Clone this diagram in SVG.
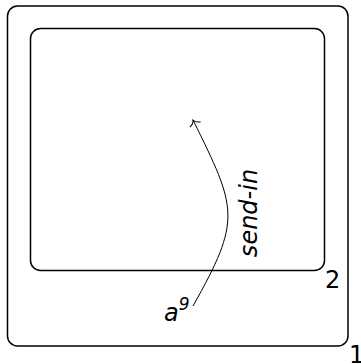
<svg xmlns="http://www.w3.org/2000/svg" width="361" height="364" viewBox="0 0 361 364">
<style>
.box{fill:none;stroke:#000;stroke-width:1.5}
.lbl{font-family:"DejaVu Sans",sans-serif;font-size:24px;fill:#000}
.it{font-style:italic}
.edge{fill:none;stroke:#000;stroke-width:1}
</style>
<defs>
<marker id="to" markerUnits="userSpaceOnUse" markerWidth="14" markerHeight="16" refX="0" refY="0" viewBox="-7 -8 14 16" orient="auto" overflow="visible">
<path d="M -5,-6 C -4,-2.5 -1.5,-0.5 0,0 C -1.5,0.5 -4,2.5 -5,6" fill="none" stroke="#000" stroke-width="1"/>
</marker>
</defs>
<g id="node1">
<rect class="box" x="7.5" y="6" width="340.5" height="340" rx="10"/>
<text class="lbl" x="349" y="362.5">1</text>
</g>
<g id="node2">
<rect class="box" x="30.5" y="28.5" width="294" height="242" rx="10"/>
<text class="lbl" x="325" y="287.5">2</text>
</g>
<g id="connectors">
<path class="edge" d="M 193,306 C 242,219 237,209 193,120" marker-end="url(#to)"/>
<text class="lbl it" transform="translate(257,213) rotate(-90)" text-anchor="middle">send-in</text>
<text class="lbl it" x="164" y="321">a<tspan font-size="17" dy="-11">9</tspan></text>
</g>
</svg>
